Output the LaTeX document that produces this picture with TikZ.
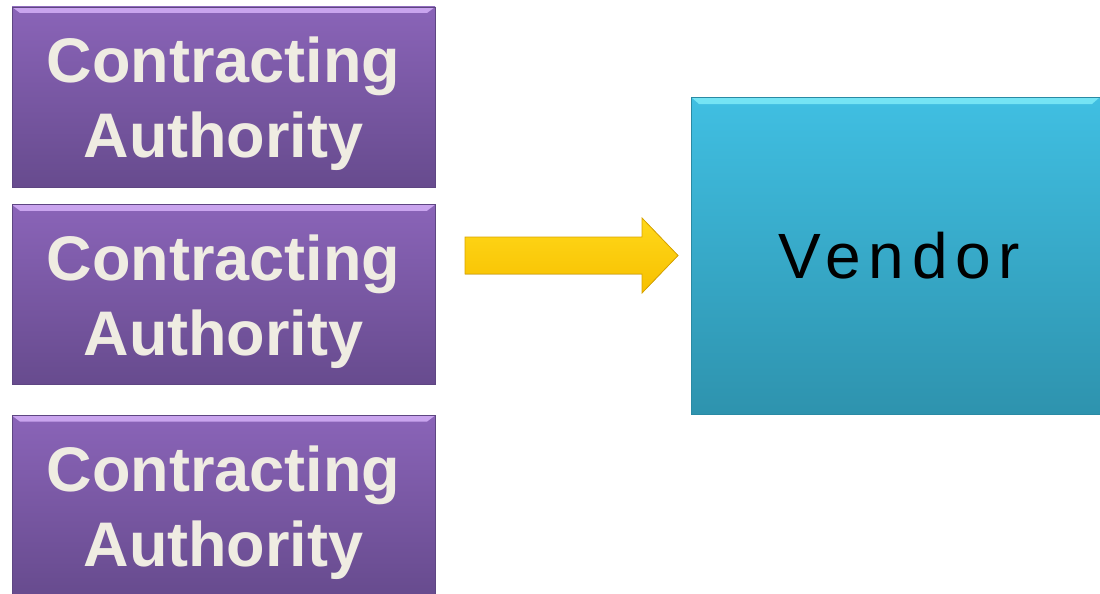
\documentclass[tikz,border=0pt]{standalone}
\usepackage{fontspec}
\setmainfont{Liberation Sans}
\usepackage{tikz}
\usetikzlibrary{positioning}

\definecolor{catop}{HTML}{8A64B8}
\definecolor{cabot}{HTML}{674B8E}
\definecolor{cahigh}{HTML}{C9A4EE}
\definecolor{caedge}{HTML}{5E4682}
\definecolor{catext}{HTML}{EFECE2}
\definecolor{vtop}{HTML}{40BFE2}
\definecolor{vbot}{HTML}{2E93AE}
\definecolor{vhigh}{HTML}{74E4F4}
\definecolor{vedge}{HTML}{2A8AA4}
\definecolor{arwtop}{HTML}{FFD81A}
\definecolor{arwbot}{HTML}{F7C000}
\definecolor{arwedge}{HTML}{D9A400}

\begin{document}
\begin{tikzpicture}[x=1pt, y=-1pt,
  cabox/.style={rectangle, minimum width=423pt, minimum height=180pt, inner sep=0pt,
    top color=catop, bottom color=cabot, draw=caedge, line width=0.8pt,
    align=center, text=catext, font=\fontsize{63}{75}\selectfont\bfseries,
    path picture={\fill[cahigh] (path picture bounding box.north west) -- (path picture bounding box.north east)
      -- ([xshift=-8pt,yshift=-6pt]path picture bounding box.north east) -- ([xshift=8pt,yshift=-6pt]path picture bounding box.north west) -- cycle;}},
  vbox/.style={rectangle, minimum width=409pt, minimum height=317pt, inner sep=0pt,
    top color=vtop, bottom color=vbot, draw=vedge, line width=0.8pt,
    font=\fontsize{64}{72}\selectfont,
    path picture={\fill[vhigh] (path picture bounding box.north west) -- (path picture bounding box.north east)
      -- ([xshift=-8pt,yshift=-7pt]path picture bounding box.north east) -- ([xshift=8pt,yshift=-7pt]path picture bounding box.north west) -- cycle;}},
  arw/.style={top color=arwtop, bottom color=arwbot, draw=arwedge, line width=0.8pt, line join=miter}]
  \useasboundingbox (0,0) rectangle (1100,594);
  \node[cabox] (ca1) at (223.5,97) {\rule{0pt}{60pt}Contracting\\Authority};
  \node[cabox, below=17pt of ca1] (ca2) {\rule{0pt}{60pt}Contracting\\Authority};
  \node[cabox, below=30pt of ca2] (ca3) {\rule{0pt}{60pt}Contracting\\Authority};
  \node[vbox] (vendor) at (895.5,255.5) {\hspace{8pt}\addfontfeatures{LetterSpace=12}Vendor};
  % arrow from the authorities to the vendor
  \coordinate (arwtail) at (465,255.5);
  \coordinate (arwtip) at (678,255.5);
  \filldraw[arw] ([yshift=18.5pt]arwtail) -- ([xshift=-36pt,yshift=18.5pt]arwtip) -- ([xshift=-36pt,yshift=37.5pt]arwtip)
    -- (arwtip) -- ([xshift=-36pt,yshift=-37.5pt]arwtip) -- ([xshift=-36pt,yshift=-18.5pt]arwtip)
    -- ([yshift=-18.5pt]arwtail) -- cycle;
\end{tikzpicture}
\end{document}
